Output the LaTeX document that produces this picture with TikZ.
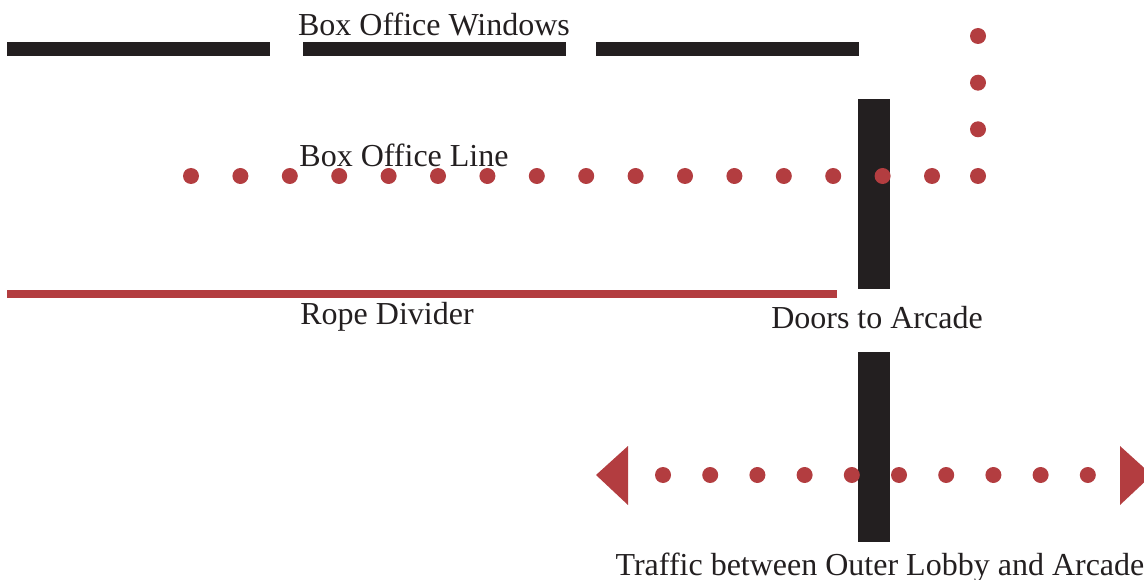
\documentclass[tikz,border=0pt]{standalone}
\usepackage{fontspec}
\setmainfont{Liberation Serif}
\usepackage{xcolor}
\definecolor{wallgray}{HTML}{231F20}
\definecolor{ropered}{HTML}{B33D40}

\begin{document}
\begin{tikzpicture}[x=1pt,y=-1pt,
    wall/.style={fill=wallgray},
    queue/.style={fill=ropered},
    plantext/.style={anchor=base,inner sep=0pt,text=wallgray,font=\fontsize{32}{38}\selectfont}]
    \useasboundingbox (0,0) rectangle (1144,580);

    % box office windows
    \fill[wall] (7,42) rectangle (270,56);
    \fill[wall] (303,42) rectangle (566,56);
    \fill[wall] (596,42) rectangle (859,56);
    \node[plantext] (windows) at (434,36) {Box Office Windows};

    % doors to arcade
    \fill[wall] (858,99) rectangle (890,289);
    \fill[wall] (858,352) rectangle (890,542);
    \node[plantext] (doors) at (877,329) {Doors to Arcade};

    % rope divider
    \fill[queue] (7,290) rectangle (837,298);
    \node[plantext] (rope) at (387,324) {Rope Divider};

    % box office line
    \foreach \i in {0,...,15}
        \fill[queue] (191+49.4*\i,176) circle (8pt);
    \foreach \y in {36,82.7,129.3,176}
        \fill[queue] (978,\y) circle (8pt);
    \node[plantext] (boxline) at (404,167) {Box Office Line};

    % traffic between lobby and arcade
    \foreach \i in {0,...,9}
        \fill[queue] (663+47.2*\i,475) circle (8pt);
    \fill[queue] (596,475) -- (628,446) -- (628,505) -- cycle;
    \fill[queue] (1152,475) -- (1120,446) -- (1120,505) -- cycle;
    \node[plantext] (traffic) at (880,575) {Traffic between Outer Lobby and Arcade};
\end{tikzpicture}
\end{document}
